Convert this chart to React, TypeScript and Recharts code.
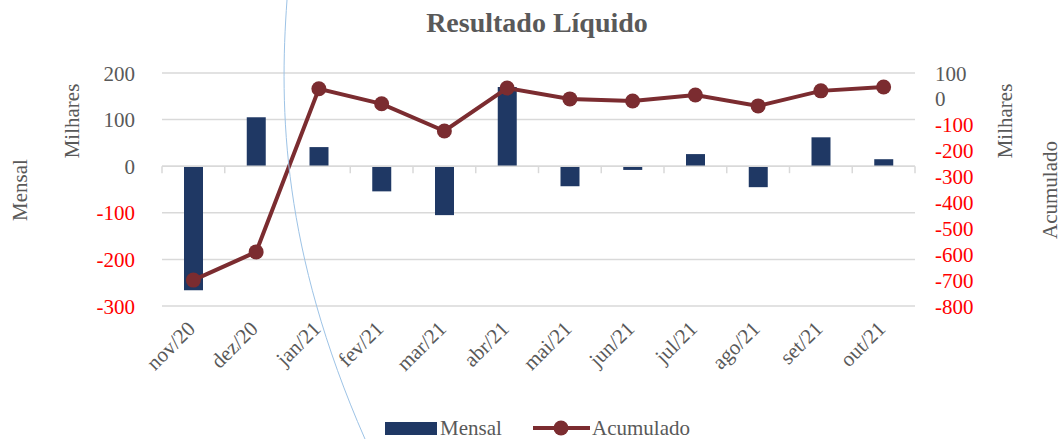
import {
  ComposedChart,
  Bar,
  Line,
  XAxis,
  YAxis,
  CartesianGrid,
  ReferenceLine,
} from "recharts";

const months = [
  "nov/20", "dez/20", "jan/21", "fev/21", "mar/21", "abr/21",
  "mai/21", "jun/21", "jul/21", "ago/21", "set/21", "out/21",
];
const mensal = [-266, 105, 41, -54, -105, 170, -43, -8, 26, -45, 62, 15];
const acumulado = [-700, -591, 39, -19, -124, 42, 0, -8, 15, -27, 31, 46];

const leftTicks = [-300, -200, -100, 0, 100, 200];
const rightTicks = [-800, -700, -600, -500, -400, -300, -200, -100, 0, 100];

const data = months.map((name, i) => ({
  name,
  mensal: mensal[i],
  acumulado: acumulado[i],
}));

const FONT = "'Liberation Serif', 'Times New Roman', serif";
const GRAY = "#595959";
const RED = "#ff0000";
const BAR = "#1f3864";
const LINE = "#7b2c30";

const LeftTick = (p: any) => (
  <text x={p.x} y={p.y} dy="0.36em" textAnchor="end" fontSize={21}
    fontFamily={FONT} fill={p.payload.value < 0 ? RED : GRAY}>
    {p.payload.value}
  </text>
);

const RightTick = (p: any) => (
  <text x={p.x} y={p.y} dy="0.36em" textAnchor="start" fontSize={21}
    fontFamily={FONT} fill={p.payload.value < 0 ? RED : GRAY}>
    {p.payload.value}
  </text>
);

const MonthTick = (p: any) => (
  <text transform={`translate(${p.x + 3},${p.y + 24}) rotate(-45)`}
    textAnchor="end" fontSize={21} fontFamily={FONT} fill={GRAY}>
    {p.payload.value}
  </text>
);

export default function App() {
  return (
    <div style={{ position: "absolute", left: 0, top: 0, width: 1064, height: 439, background: "#fff" }}>
      <ComposedChart width={1064} height={439} data={data}
        margin={{ top: 73, right: 69, left: 82, bottom: 103 }}>
        <CartesianGrid yAxisId="left" vertical={false} stroke="#d9d9d9" strokeWidth={1.5} />
        <XAxis dataKey="name" height={30} interval={0} axisLine={false}
          tickLine={false} tickSize={0} tickMargin={0} tick={<MonthTick />} />
        <YAxis yAxisId="left" width={80} domain={[-300, 200]} ticks={leftTicks}
          axisLine={false} tickLine={false} tickSize={0} tickMargin={27}
          tick={<LeftTick />} />
        <YAxis yAxisId="right" orientation="right" width={80} domain={[-800, 100]}
          ticks={rightTicks} axisLine={false} tickLine={false} tickSize={0}
          tickMargin={20} tick={<RightTick />} />
        <ReferenceLine yAxisId="left" y={0} stroke="#d9d9d9" strokeWidth={1.5} />
        {months.map((m) => (
          <ReferenceLine key={m} yAxisId="left" position="start"
            segment={[{ x: m, y: 0 }, { x: m, y: -15 }]}
            stroke="#d9d9d9" strokeWidth={1.5} />
        ))}
        <ReferenceLine yAxisId="left" position="end"
          segment={[{ x: months[months.length - 1], y: 0 }, { x: months[months.length - 1], y: -15 }]}
          stroke="#d9d9d9" strokeWidth={1.5} />
        <Bar yAxisId="left" dataKey="mensal" fill={BAR} barSize={19}
          isAnimationActive={false} />
        <Line yAxisId="right" dataKey="acumulado" stroke={LINE} strokeWidth={4}
          dot={{ r: 7.5, fill: LINE, stroke: LINE, strokeWidth: 0 }}
          activeDot={false} isAnimationActive={false} />
      </ComposedChart>
      <svg width={1064} height={439}
        style={{ position: "absolute", left: 0, top: 0, pointerEvents: "none" }}>
        <path d="M287,0 C279,110 282,250 365,439" fill="none" stroke="#9dc3e6" strokeWidth={1} />
        <text x={537} y={32} textAnchor="middle" fontSize={28} fontWeight="bold"
          fontFamily={FONT} fill={GRAY}>Resultado Líquido</text>
        <text transform="translate(27,190) rotate(-90)" textAnchor="middle"
          fontSize={21} fontFamily={FONT} fill={GRAY}>Mensal</text>
        <text transform="translate(79,121) rotate(-90)" textAnchor="middle"
          fontSize={21} fontFamily={FONT} fill={GRAY}>Milhares</text>
        <text transform="translate(1012,121) rotate(-90)" textAnchor="middle"
          fontSize={21} fontFamily={FONT} fill={GRAY}>Milhares</text>
        <text transform="translate(1057,190) rotate(-90)" textAnchor="middle"
          fontSize={21} fontFamily={FONT} fill={GRAY}>Acumulado</text>
        <rect x={385} y={422} width={52} height={13} fill={BAR} />
        <text x={440} y={435} fontSize={21} fontFamily={FONT} fill={GRAY}>Mensal</text>
        <line x1={533} y1={428} x2={590} y2={428} stroke={LINE} strokeWidth={4} />
        <circle cx={561} cy={428} r={7.5} fill={LINE} />
        <text x={592} y={435} fontSize={21} fontFamily={FONT} fill={GRAY}>Acumulado</text>
      </svg>
    </div>
  );
}
